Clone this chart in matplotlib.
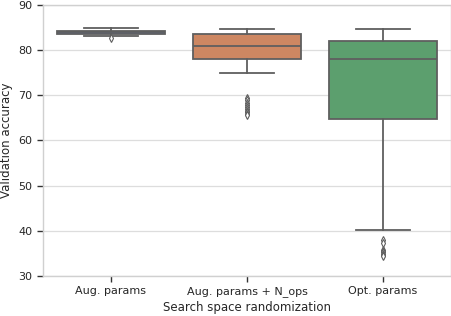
import matplotlib
matplotlib.use("Agg")
import matplotlib.pyplot as plt

# data
categories = ["Aug. params", "Aug. params + N_ops", "Opt. params"]
medians = [84.0, 80.9, 78.1]
q1 = [83.6, 78.0, 64.8]
q3 = [84.3, 83.5, 82.1]
whisk_lo = [83.2, 75.0, 40.2]
whisk_hi = [84.9, 84.8, 84.8]
fliers = [
    [82.8],
    [69.3, 68.9, 68.4, 67.9, 67.4, 67.0, 66.6, 66.2, 65.9, 65.6],
    [37.9, 37.3, 35.8, 35.5, 35.2, 34.9, 34.6, 34.4],
]
colors = ["#5a73a8", "#cd8762", "#5c9f6e"]

plt.rcParams["font.family"] = "DejaVu Sans"
fig = plt.figure(figsize=(4.52, 3.16), dpi=100)
ax = fig.add_axes([0.095, 0.127, 0.903, 0.857])

stats = []
for i in range(len(categories)):
    stats.append({
        "med": medians[i], "q1": q1[i], "q3": q3[i],
        "whislo": whisk_lo[i], "whishi": whisk_hi[i],
        "fliers": fliers[i], "label": categories[i],
    })

line_c = "#5f5f5f"
bp = ax.bxp(stats, positions=range(len(categories)), widths=0.8,
            patch_artist=True,
            boxprops=dict(edgecolor=line_c, linewidth=1.3),
            medianprops=dict(color=line_c, linewidth=1.3),
            whiskerprops=dict(color=line_c, linewidth=1.3),
            capprops=dict(color=line_c, linewidth=1.3),
            flierprops=dict(marker="d", markersize=4, markerfacecolor="white",
                            markeredgecolor=line_c, markeredgewidth=0.8))
for patch, c in zip(bp["boxes"], colors):
    patch.set_facecolor(c)
for cap in bp["caps"]:
    x = cap.get_xdata()
    mid = (x[0] + x[1]) / 2
    cap.set_xdata([mid - 0.2, mid + 0.2])

ax.set_xlim(-0.5, 2.5)
ax.set_ylim(30, 90)
ax.set_yticks(range(30, 91, 10))
ax.yaxis.grid(True, color="#dddddd", linewidth=0.9)
ax.set_axisbelow(True)
for s in ax.spines.values():
    s.set_color("#d0d0d0")
    s.set_linewidth(1.0)
ax.tick_params(axis="both", direction="out", length=4, width=1, color="#333333",
               labelsize=8, labelcolor="#262626")
ax.set_xlabel("Search space randomization", fontsize=8.5, color="#262626", labelpad=3)
ax.set_ylabel("Validation accuracy", fontsize=8.5, color="#262626", labelpad=4)

fig.savefig("out.png", dpi=100)
